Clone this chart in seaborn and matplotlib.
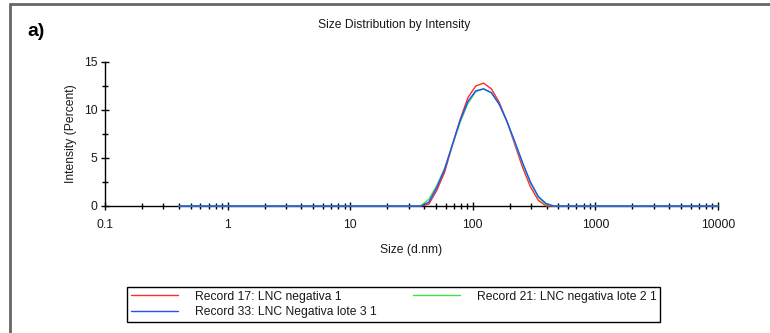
import numpy as np
import pandas as pd
import matplotlib
matplotlib.use("Agg")
import matplotlib.pyplot as plt
from matplotlib.lines import Line2D
from matplotlib.ticker import LogLocator, FuncFormatter, MultipleLocator, NullFormatter, FixedLocator
import seaborn as sns

# ---- data ----
sizes = [0.4, 32.7, 37.8, 43.8, 50.7, 58.8, 68.1, 78.8, 91.3, 105.7, 122.4,
         141.8, 164.2, 190.1, 220.2, 255.0, 295.3, 342.0, 396.1, 458.7, 531.2, 10000]
rec17 = [0, 0, 0, 0.2, 1.6, 3.5, 6.3, 9.0, 11.3, 12.5, 12.8,
         12.2, 10.8, 8.8, 6.4, 4.0, 2.0, 0.6, 0, 0, 0, 0]
rec21 = [0, 0, 0.05, 0.7, 2.1, 3.9, 6.3, 8.7, 10.7, 11.9, 12.2,
         11.8, 10.6, 8.8, 6.6, 4.4, 2.4, 0.9, 0.15, 0, 0, 0]
rec33 = [0, 0, 0, 0.4, 1.9, 3.8, 6.4, 8.9, 10.9, 12.0, 12.2,
         11.8, 10.6, 8.8, 6.7, 4.5, 2.5, 1.0, 0.25, 0, 0, 0]
labels = ["Record 17: LNC negativa 1",
          "Record 21: LNC negativa lote 2 1",
          "Record 33: LNC Negativa lote 3 1"]
colors = ["#ff2a2a", "#44e044", "#1f4fff"]
xticks = [0.1, 1, 10, 100, 1000, 10000]
yticks = [0, 5, 10, 15]

df = pd.concat([
    pd.DataFrame({"size": sizes, "intensity": vals, "record": lab})
    for vals, lab in zip([rec17, rec21, rec33], labels)
], ignore_index=True)

sns.set_style("white")
plt.rcParams["font.family"] = ["Liberation Sans", "DejaVu Sans"]
txtc = "#1a1a1a"

fig = plt.figure(figsize=(7.7, 3.33), dpi=100)
ax = fig.add_axes([105/770, 1-206/333, (718-105)/770, (206-62)/333])

sns.lineplot(data=df, x="size", y="intensity", hue="record", hue_order=labels,
             palette=dict(zip(labels, colors)), linewidth=1.0, ax=ax,
             estimator=None, legend=False)
for ln in ax.get_lines():
    ln.set_zorder(3)
    ln.set_clip_on(False)

ax.set_xscale("log")
ax.set_xlim(0.1, 10000)
ax.set_ylim(0, 15)
ax.xaxis.set_major_locator(FixedLocator(xticks))
ax.xaxis.set_major_formatter(FuncFormatter(lambda v, p: f"{v:g}"))
ax.xaxis.set_minor_locator(LogLocator(base=10, subs=np.arange(2, 10), numticks=50))
ax.xaxis.set_minor_formatter(NullFormatter())
ax.yaxis.set_major_locator(FixedLocator(yticks))
ax.yaxis.set_minor_locator(MultipleLocator(2.5))

for s in ["top", "right"]:
    ax.spines[s].set_visible(False)
for s in ["left", "bottom"]:
    ax.spines[s].set_color("black")
    ax.spines[s].set_linewidth(1.0)

ax.tick_params(which="major", direction="inout", length=6, width=1, color="black",
               labelsize=8.7, labelcolor=txtc, bottom=True, left=True)
ax.tick_params(which="minor", direction="inout", length=4, width=1, color="black",
               bottom=True, left=True)
ax.tick_params(axis="x", which="major", pad=6.5)
ax.tick_params(axis="y", which="major", pad=2.5)

ax.set_xlabel("Size (d.nm)", fontsize=8.7, color=txtc, labelpad=9)
ax.set_ylabel("Intensity (Percent)", fontsize=8.7, color=txtc, labelpad=4.5)
ax.grid(False)

fig.text(394/770, 1-25/333, "Size Distribution by Intensity", ha="center", va="center",
         fontsize=8.7, color=txtc)
fig.text(27/770, 1-32/333, "a)", ha="left", va="center", fontsize=14,
         fontweight="bold", color="black")

handles = [Line2D([], [], color=colors[0], lw=1.0),
           Line2D([], [], color=colors[2], lw=1.0),
           Line2D([], [], color=colors[1], lw=1.0)]
hl = [labels[0], labels[2], labels[1]]
leg = fig.legend(handles, hl, ncol=2, loc="upper left",
                 bbox_to_anchor=(127/770, 0.03, (660-127)/770, 1-287/333-0.03),
                 mode="expand", fontsize=8.7, frameon=True, fancybox=False,
                 framealpha=1, edgecolor="black", borderaxespad=0, borderpad=0.3,
                 handlelength=3.9, handletextpad=1.4, labelspacing=0.3,
                 columnspacing=2.0)
leg.get_frame().set_linewidth(1.0)
for t in leg.get_texts():
    t.set_color(txtc)

# partial figure frame (top and left)
fig.add_artist(Line2D([9.5/770, 1], [1-4/333, 1-4/333], color="#666666", lw=2,
                      transform=fig.transFigure))
fig.add_artist(Line2D([9.5/770, 9.5/770], [0, 1-4/333], color="#666666", lw=2,
                      transform=fig.transFigure))

fig.savefig("out.png", dpi=100, facecolor="white")
